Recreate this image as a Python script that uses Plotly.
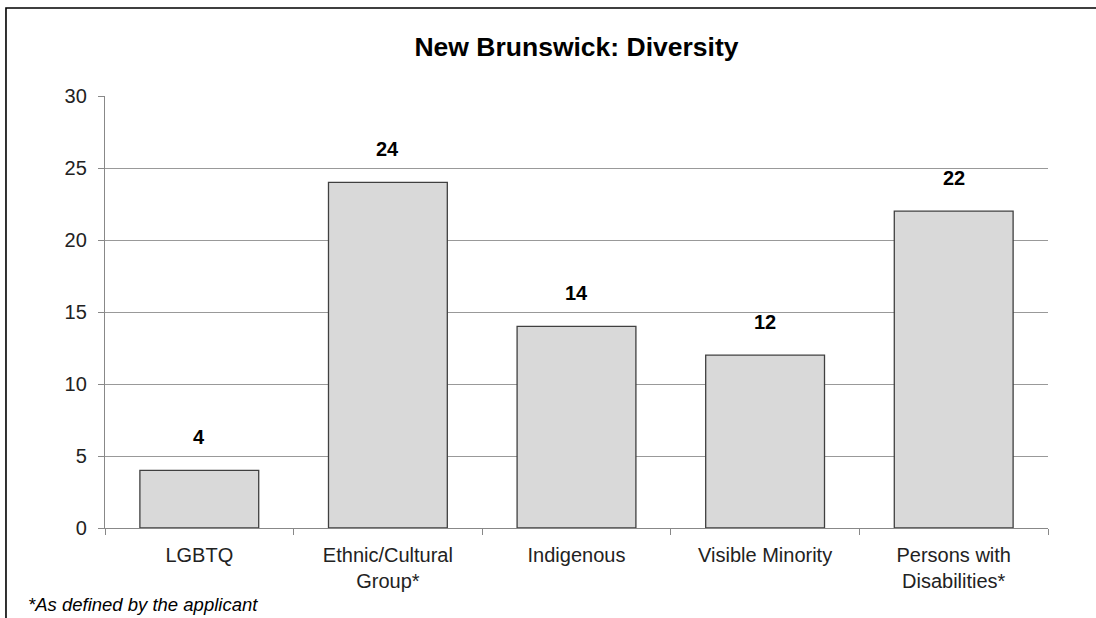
import plotly.graph_objects as go

categories = ["LGBTQ", "Ethnic/Cultural<br>Group*", "Indigenous", "Visible Minority", "Persons with<br>Disabilities*"]
values = [4, 24, 14, 12, 22]
y_ticks = [0, 5, 10, 15, 20, 25, 30]

FONT = "Liberation Sans, Arial, sans-serif"

fig = go.Figure()
fig.add_trace(go.Bar(
    x=categories, y=values, width=0.63,
    marker=dict(color="#d9d9d9", line=dict(color="#404040", width=1.3)),
    hoverinfo="skip",
))

for c, v in zip(categories, values):
    fig.add_annotation(x=c, y=v, text=f"<b>{v}</b>", showarrow=False,
                       yanchor="middle", yshift=33,
                       font=dict(family=FONT, size=20, color="#000"))

fig.add_annotation(xref="paper", yref="paper", x=-0.0827, y=-0.177,
                   text="<i>*As defined by the applicant</i>", showarrow=False,
                   xanchor="left", yanchor="middle", borderpad=0,
                   font=dict(family=FONT, size=18.5, color="#000"))

fig.add_shape(type="rect", xref="paper", yref="paper",
              x0=-0.105, y0=-0.4, x1=1.2, y1=1.2037,
              line=dict(color="#000", width=1.6), fillcolor="rgba(0,0,0,0)", layer="below")

fig.update_layout(
    width=1096, height=618,
    margin=dict(l=105, r=48, t=96, b=90),
    paper_bgcolor="white", plot_bgcolor="white",
    showlegend=False,
    title=dict(text="<b>New Brunswick: Diversity</b>", x=0.5, xref="paper",
               y=1 - 47 / 618, yanchor="middle",
               font=dict(family=FONT, size=26.5, color="#000")),
    font=dict(family=FONT, color="#000"),
    bargap=0.37,
)
fig.update_xaxes(
    showline=True, linecolor="#888", linewidth=1.3,
    ticks="outside", tickson="boundaries", ticklen=6, tickcolor="#888",
    tickfont=dict(family=FONT, size=20, color="#222"),
    ticklabelstandoff=9,
    showgrid=False,
)
fig.update_yaxes(
    range=[0, 30], tickvals=y_ticks,
    showline=True, linecolor="#888", linewidth=1.3,
    ticks="outside", ticklen=6, tickcolor="#888",
    showgrid=True, gridcolor="#999", gridwidth=1.2,
    tickfont=dict(family=FONT, size=20, color="#222"),
    ticklabelstandoff=7,
    zeroline=False,
)

fig.write_html("out.html", config={"displayModeBar": False},
               post_script="document.body.style.margin='0';document.body.style.overflow='hidden';")
